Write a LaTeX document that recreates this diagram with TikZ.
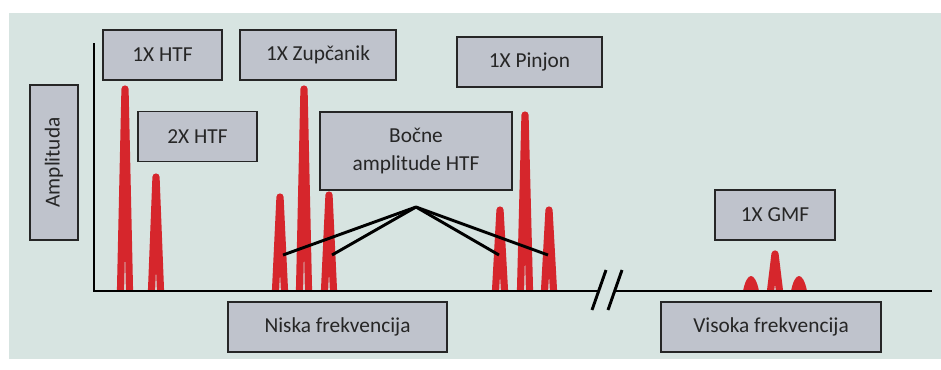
\documentclass[tikz,border=0pt]{standalone}
\usepackage{fontspec}
\setmainfont{Carlito}
\usepackage{xcolor}
\usepackage{tikz}
\usetikzlibrary{
	positioning
}
\definecolor{panel}{RGB}{215,228,225}
\definecolor{boxgray}{RGB}{191,195,204}
\definecolor{peakred}{RGB}{214,38,44}

\begin{document}
\begin{tikzpicture}[x=0.75pt, y=-0.75pt,
		lbl/.style={draw=black!85, line width=1.1pt, fill=boxgray, text=black!85, font=\fontsize{16}{21}\selectfont, align=center, inner sep=0pt, minimum height=37.5pt},
		peak/.style={draw=peakred, line width=5.4pt, line join=round},
		axis/.style={line width=2.2pt},
		lead/.style={line width=2.2pt}]
				\def\base{291}

				\useasboundingbox (0, 0) rectangle (941, 369) ;
				\fill[panel] (9, 13) rectangle (941, 359) ;

				% peaks
				\foreach \px/\top in {125/89, 156/177, 280/197, 304/89, 329/195, 500/210, 525/115, 549/210, 775/254}
					\draw[peak] (\px - 4.5, \base) -- (\px, \top) -- (\px + 4.5, \base) ;
				\foreach \px in {751, 799}
					\fill[peakred] (\px - 8, \base) .. controls (\px - 4, 271) and (\px + 4, 271) .. (\px + 8, \base) -- cycle ;

				% axes
				\coordinate (orig) at (94, \base) ;
				\draw[axis] (94, 43) -- (orig) -- (599, \base) ;
				\draw[axis] (615, \base) -- (932, \base) ;
				\draw[axis] (592, 310) -- (606, 270) ;
				\draw[axis] (608, 310) -- (622, 270) ;

				% labels
				\node[lbl, rotate=90, minimum width=116pt, minimum height=36pt] (amp) at (54, 162.5) {Amplituda} ;
				\node[lbl, minimum width=89pt] (htf1) at (162.5, 55) {1X HTF} ;
				\node[lbl, minimum width=89pt] (htf2) at (197.5, 136.5) {2X HTF} ;
				\node[lbl, minimum width=117pt] (zup) at (318, 55) {1X Zupčanik} ;
				\node[lbl, minimum width=109pt] (pin) at (529.5, 62) {1X Pinjon} ;
				\node[lbl, minimum width=144pt, minimum height=58.5pt] (bocne) at (416, 151) {Bočne\\amplitude HTF} ;
				\node[lbl, minimum width=90pt] (gmf) at (775, 215) {1X GMF} ;
				\node[lbl, minimum width=164pt] (niska) at (337.5, 327) {Niska frekvencija} ;
				\node[lbl, minimum width=165pt] (visoka) at (771, 327) {Visoka frekvencija} ;

				% sideband leads
				\coordinate (apex) at (416, 207) ;
				\coordinate (sbA) at (283, 255) ;
				\coordinate (sbB) at (332, 255) ;
				\coordinate (sbC) at (499, 255) ;
				\coordinate (sbD) at (548, 255) ;
				\foreach \sb in {sbA, sbB, sbC, sbD}
					\draw[lead] (apex) -- (\sb) ;
			\end{tikzpicture}
\end{document}
